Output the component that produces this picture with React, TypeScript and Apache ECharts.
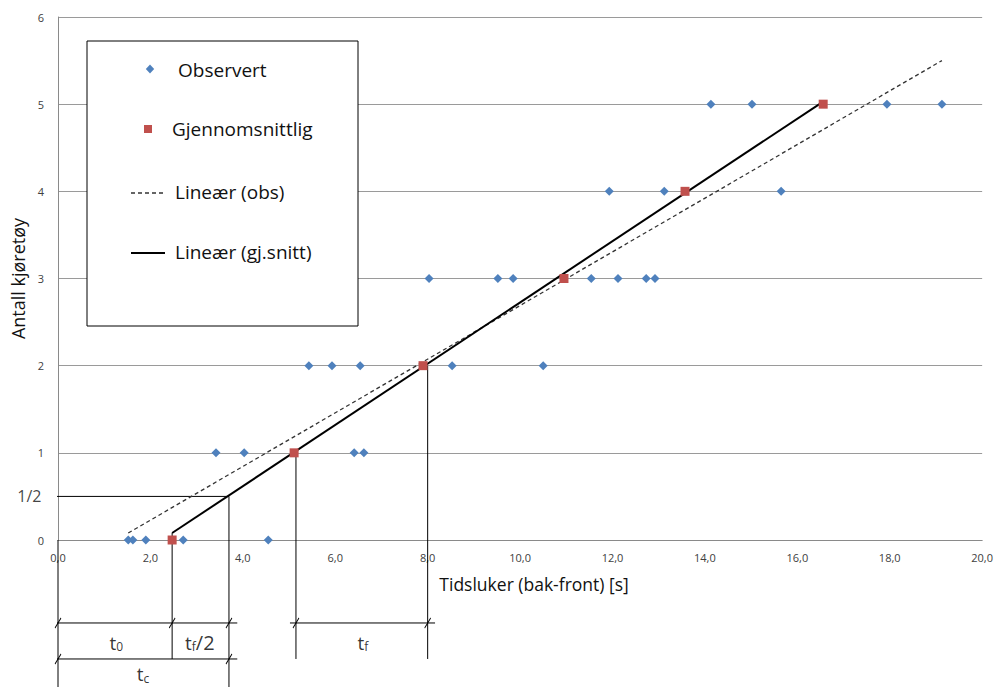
import React, { useEffect, useRef } from "react";
import * as echarts from "echarts";

const FONT = '"Open Sans", "Liberation Sans", sans-serif';

// ---- data ----
const xTickLabels = ["0,0", "2,0", "4,0", "6,0", "8,0", "10,0", "12,0", "14,0", "16,0", "18,0", "20,0"];
const yTickLabels = ["0", "1", "2", "3", "4", "5", "6"];

const observedX = [
  1.52, 1.62, 1.9, 2.71, 4.55,
  3.42, 4.03, 6.41, 6.62,
  5.43, 5.93, 6.54, 8.53, 10.5,
  8.03, 9.52, 9.85, 11.54, 12.12, 12.73, 12.92,
  11.93, 13.12, 15.65,
  14.13, 15.02, 17.94, 19.13,
];
const observedY = [
  0, 0, 0, 0, 0,
  1, 1, 1, 1,
  2, 2, 2, 2, 2,
  3, 3, 3, 3, 3, 3, 3,
  4, 4, 4,
  5, 5, 5, 5,
];
const averageX = [2.47, 5.11, 7.9, 10.95, 13.57, 16.56];
const averageY = [0, 1, 2, 3, 4, 5];

const trendObs = [[1.52, 0.08], [19.13, 5.5]];
const trendAvg = [[2.47, 0.08], [16.56, 5.03]];

const legendNames = ["Observert", "Gjennomsnittlig", "Lineær (obs)", "Lineær (gj.snitt)"];

// guide / dimension lines (data coordinates)
const guideSegments = [
  [[0, 0], [0, -1.75]],
  [[2.47, 0.08], [2.47, -1.365]],
  [[3.7, 0.5], [3.7, -1.75]],
  [[5.15, 1], [5.15, -1.365]],
  [[8.0, 2], [8.0, -1.365]],
  [[-0.24, 0.5], [3.7, 0.5]],
  [[-0.2, -0.952], [3.88, -0.952]],
  [[5.02, -0.952], [8.16, -0.952]],
  [[-0.2, -1.365], [3.88, -1.365]],
];
const slashPoints = [
  [0, -0.952], [2.47, -0.952], [3.7, -0.952], [5.15, -0.952], [8.0, -0.952],
  [0, -1.365], [3.7, -1.365],
];
const annotations = [
  { x: -0.24, y: 0.5, text: "1/2" },
  { x: 1.26, y: -1.18, text: "{t|t}{s|0}" },
  { x: 3.07, y: -1.18, text: "{t|t}{s|f}{b|/2}" },
  { x: 6.6, y: -1.18, text: "{t|t}{s|f}" },
  { x: 1.84, y: -1.54, text: "{t|t}{s|c}" },
];

export default function App() {
  const ref = useRef<HTMLDivElement>(null);

  useEffect(() => {
    const chart = echarts.init(ref.current!, null, { renderer: "svg" });

    const guideSeries = guideSegments.map((seg) => ({
      type: "line",
      data: seg,
      symbol: "none",
      clip: false,
      silent: true,
      lineStyle: { color: "#000", width: 1 },
      z: 2,
    }));

    const legendText = (name: string, x: number, y: number) => ({
      type: "text",
      x,
      y,
      z: 9,
      style: {
        text: name,
        fontSize: 19,
        fontFamily: FONT,
        fill: "#111",
        verticalAlign: "middle",
        align: "left",
      },
    });

    const annotationData: any[] = annotations.map((a, i) =>
      i === 0
        ? {
            value: [a.x, a.y],
            text: a.text,
            label: { position: "left", distance: 5, fontSize: 16, color: "#111", fontFamily: FONT },
          }
        : { value: [a.x, a.y], text: a.text }
    );

    const option: any = {
      animation: false,
      backgroundColor: "#fff",
      textStyle: { fontFamily: FONT },
      grid: { left: 58, right: 13, top: 17, bottom: 147, containLabel: false },
      xAxis: {
        type: "value",
        min: 0,
        max: 20,
        interval: 2,
        name: "Tidsluker (bak-front) [s]",
        nameLocation: "middle",
        nameGap: 35,
        nameTextStyle: { fontSize: 17.5, color: "#111", fontFamily: FONT, padding: [0, 0, 0, 28] },
        axisLine: { show: true, onZero: false, lineStyle: { color: "#8a8a8a" } },
        axisTick: { show: false },
        splitLine: { show: false },
        axisLabel: {
          fontSize: 11,
          color: "#404040",
          margin: 12,
          formatter: (v: number) => xTickLabels[Math.round(v / 2)] ?? "",
        },
      },
      yAxis: {
        type: "value",
        min: 0,
        max: 6,
        interval: 1,
        name: "Antall kjøretøy",
        nameLocation: "middle",
        nameGap: 28,
        nameTextStyle: { fontSize: 18, color: "#111", fontFamily: FONT },
        axisLine: { show: true, lineStyle: { color: "#8a8a8a" } },
        axisTick: { show: false },
        splitLine: { show: true, lineStyle: { color: "#9a9a9a", width: 1 } },
        axisLabel: {
          fontSize: 11,
          color: "#404040",
          margin: 14,
          formatter: (v: number) => yTickLabels[Math.round(v)] ?? "",
        },
      },
      legend: { show: false },
      graphic: [
        {
          type: "rect",
          x: 87,
          y: 41,
          shape: { x: 0, y: 0, width: 271, height: 285 },
          style: { fill: "#fff", stroke: "#000", lineWidth: 1 },
          z: 8,
        },
        {
          type: "polygon",
          z: 9,
          shape: { points: [[150, 64.5], [154.2, 69], [150, 73.5], [145.8, 69]] },
          style: { fill: "#4F81BD" },
        },
        legendText(legendNames[0], 178, 70),
        {
          type: "rect",
          z: 9,
          shape: { x: 144, y: 125, width: 8, height: 8 },
          style: { fill: "#C0504D" },
        },
        legendText(legendNames[1], 172, 129),
        {
          type: "line",
          z: 9,
          shape: { x1: 131, y1: 193, x2: 165, y2: 193 },
          style: { stroke: "#333", lineWidth: 1.3, lineDash: [4, 3] },
        },
        legendText(legendNames[2], 175, 192),
        {
          type: "line",
          z: 9,
          shape: { x1: 131, y1: 253, x2: 165, y2: 253 },
          style: { stroke: "#000", lineWidth: 2 },
        },
        legendText(legendNames[3], 175, 252),
      ],
      series: [
        {
          type: "line",
          name: legendNames[2],
          data: trendObs,
          symbol: "none",
          lineStyle: { color: "#333", width: 1.3, type: [4, 3] },
          z: 3,
        },
        {
          type: "line",
          name: legendNames[3],
          data: trendAvg,
          symbol: "none",
          lineStyle: { color: "#000", width: 2 },
          z: 4,
        },
        {
          type: "scatter",
          name: legendNames[0],
          symbol: "diamond",
          symbolSize: 9,
          itemStyle: { color: "#4F81BD", opacity: 1 },
          data: observedX.map((x, i) => [x, observedY[i]]),
          z: 5,
        },
        {
          type: "scatter",
          name: legendNames[1],
          symbol: "rect",
          symbolSize: 9,
          itemStyle: { color: "#C0504D", opacity: 1 },
          data: averageX.map((x, i) => [x, averageY[i]]),
          z: 6,
        },
        ...guideSeries,
        {
          type: "scatter",
          data: slashPoints,
          symbol: "path://M0,10L6,0",
          symbolSize: [6, 10],
          clip: false,
          silent: true,
          itemStyle: { color: "none", borderColor: "#000", borderWidth: 1, opacity: 1 },
          z: 2,
        },
        {
          type: "scatter",
          data: annotationData,
          symbolSize: 1,
          clip: false,
          silent: true,
          itemStyle: { color: "rgba(0,0,0,0)" },
          label: {
            show: true,
            position: "inside",
            color: "#000",
            fontFamily: FONT,
            formatter: (p: any) => p.data.text,
            rich: {
              t: { fontSize: 19, lineHeight: 20, color: "#000", fontFamily: FONT },
              s: { fontSize: 12, lineHeight: 12, verticalAlign: "bottom", color: "#000", fontFamily: FONT },
              b: { fontSize: 20, lineHeight: 20, color: "#000", fontFamily: FONT },
            },
          },
          z: 7,
        },
      ],
    };

    chart.setOption(option);
    return () => chart.dispose();
  }, []);

  return (
    <div
      ref={ref}
      style={{ position: "fixed", left: 0, top: 0, width: 996, height: 687, background: "#fff" }}
    />
  );
}
